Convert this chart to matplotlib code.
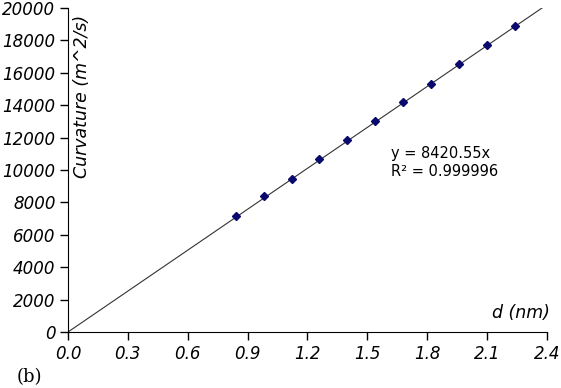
import numpy as np
import matplotlib
matplotlib.use("Agg")
import matplotlib.pyplot as plt

# measured points (d in nm, curvature)
d_nm = [0.84, 0.98, 1.12, 1.26, 1.40, 1.54, 1.68, 1.82, 1.96, 2.10, 2.24]
curvature = [7150, 8380, 9460, 10680, 11830, 13000, 14190, 15330, 16520, 17700, 18860]
slope = 8420.55
r2 = "0.999996"
x_ticks = [0.0, 0.3, 0.6, 0.9, 1.2, 1.5, 1.8, 2.1, 2.4]
y_ticks = [0, 2000, 4000, 6000, 8000, 10000, 12000, 14000, 16000, 18000, 20000]

fig = plt.figure(figsize=(5.61, 3.88), dpi=100)
ax = fig.add_axes([0.1212, 0.1443, 0.8538, 0.8351])

# fit line through the origin
xf = np.array([0.0, 2.4])
ax.plot(xf, slope * xf, color="#333333", linewidth=0.8)
ax.plot(d_nm, curvature, linestyle="none", marker="D", markersize=3.8,
        color="#0a0a6e", markeredgecolor="#0a0a6e")

ax.set_xlim(0, 2.4)
ax.set_ylim(0, 20000)
ax.set_xticks(x_ticks)
ax.set_yticks(y_ticks)
ax.set_xticklabels(["%.1f" % t for t in x_ticks], fontsize=12, style="italic")
ax.set_yticklabels([str(t) for t in y_ticks], fontsize=12, style="italic")
ax.tick_params(direction="out", length=6, width=1, pad=3)
for s in ["top", "right"]:
    ax.spines[s].set_visible(False)

ax.text(0.030, 0.98, "Curvature (m^2/s)", transform=ax.transAxes, rotation=90,
        fontsize=12.5, style="italic", ha="center", va="top")
ax.text(1.006, 0.058, "d (nm)", transform=ax.transAxes, fontsize=12.5,
        style="italic", ha="right", va="center")
ax.text(1.62, 10450, "y = %.2fx\nR² = %s" % (slope, r2), fontsize=10.5,
        ha="left", va="center", linespacing=1.25)

fig.text(0.03, 0.028, "(b)", fontsize=13, family="DejaVu Serif", ha="left", va="center")

fig.savefig("out.png", dpi=100)
